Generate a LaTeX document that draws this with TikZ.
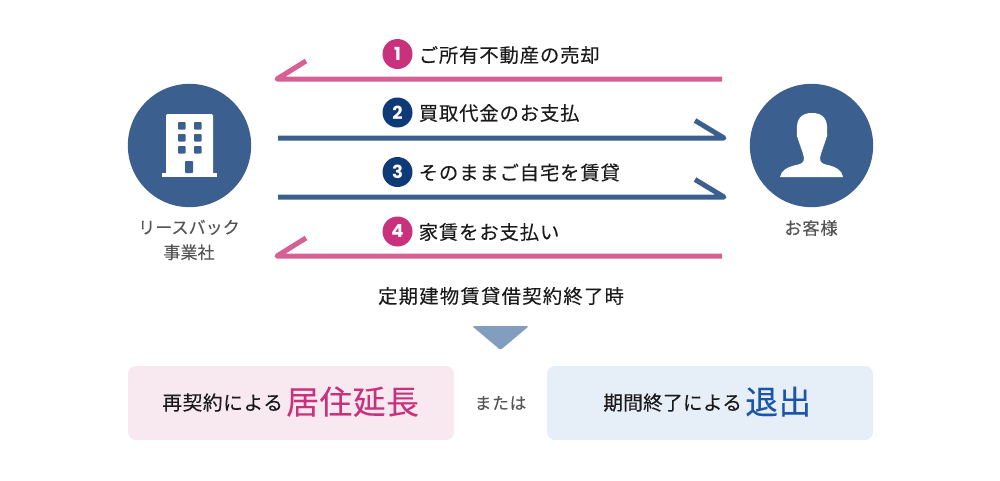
\documentclass[tikz,border=0pt]{standalone}
\usepackage{fontspec}
\setmainfont[FakeBold=0.12]{Noto Sans CJK JP}
\newfontfamily\numfont{Poppins}
\newcommand{\jpx}[2]{\fontsize{#1pt}{#1pt}\selectfont\addfontfeature{LetterSpace=#2}}
\definecolor{pinkline}{HTML}{D65F93}
\definecolor{blueline}{HTML}{3B6090}
\definecolor{pinknum}{HTML}{C9317C}
\definecolor{bluenum}{HTML}{0F3A78}
\definecolor{pinkbox}{HTML}{F8E9F0}
\definecolor{bluebox}{HTML}{E6EEF8}
\definecolor{tri}{HTML}{829EBF}
\definecolor{greytext}{HTML}{555555}
\definecolor{inktext}{HTML}{1A1A1A}
\definecolor{bluetext}{HTML}{1C55A8}
\tikzset{
 actor/.style={circle,fill=blueline,minimum size=92.5pt,inner sep=0pt},
 num/.style={circle,minimum size=22.5pt,inner sep=0pt,text=white,font=\numfont\bfseries\fontsize{13.5pt}{13.5pt}\selectfont},
 step label/.style={anchor=west,inner sep=0pt,text=inktext,font=\jpx{14.5}{4.5}},
 flow/.style={line width=3.75pt,line join=round,line cap=butt},
 small label/.style={inner sep=0pt,text=greytext,align=center},
 choice/.style={rounded corners=6pt,inner sep=0pt,minimum width=244.5pt,minimum height=55.5pt},
 icon/.style={fill=white,draw=none}
}
\begin{document}
\begin{tikzpicture}[x=0.75pt,y=-0.75pt]
\useasboundingbox (0,0) rectangle (1000,480);
% actors
\node[actor] (biz) at (189.5,145.5) {};
\node[actor] (cust) at (811.5,145.5) {};
\node[small label,font=\jpx{12.8}{0},text width=90pt] (bizlabel) at (189,240) {リースバック\\[6pt]事業社};
\node[small label,font=\jpx{13}{4}] (custlabel) at (811,228) {お客様};
% building
\fill[icon,rounded corners=1pt] (166,114) rectangle (213,174);
\fill[icon] (162,173) rectangle (217,177);
\foreach \yy in {122,134,146}{\foreach \xx in {178,194}{
 \fill[blueline,rounded corners=0.6pt] (\xx,\yy) rectangle ++(7.5,7.5);}}
\fill[blueline,rounded corners=0.6pt] (185,161) rectangle (193,173);
% person
\fill[icon] (780,177) .. controls (781,170) and (788,167) .. (796,165)
 .. controls (801,164) and (804,163) .. (804,158)
 .. controls (803,152) and (800,146) .. (798,139)
 .. controls (796,137) and (797,134) .. (797,131)
 .. controls (796,118) and (802,113) .. (812,113)
 .. controls (822,113) and (828,118) .. (827,131)
 .. controls (827,134) and (828,137) .. (826,139)
 .. controls (824,146) and (821,152) .. (820,158)
 .. controls (820,163) and (823,164) .. (828,165)
 .. controls (836,167) and (842,170) .. (843,177) -- cycle;
% flow coordinates
\coordinate (r1) at (722,79); \coordinate (l1) at (277,79); \coordinate (b1) at (306,61);
\coordinate (l2) at (278,138); \coordinate (r2) at (724,138); \coordinate (b2) at (695,120.5);
\coordinate (l3) at (278,197); \coordinate (r3) at (724,197); \coordinate (b3) at (695,179.5);
\coordinate (r4) at (722,256); \coordinate (l4) at (277,256); \coordinate (b4) at (306,238);
\draw[flow,pinkline] (b1) -- (l1) -- (r1);
\draw[flow,blueline] (l2) -- (r2) -- (b2);
\draw[flow,blueline] (l3) -- (r3) -- (b3);
\draw[flow,pinkline] (b4) -- (l4) -- (r4);
% steps
\node[num,fill=pinknum] (n1) at (397.5,54) {1};
\node[num,fill=bluenum] (n2) at (397.5,112.5) {2};
\node[num,fill=bluenum] (n3) at (397.5,172) {3};
\node[num,fill=pinknum] (n4) at (397.5,231.5) {4};
\node[step label] (t1) at (418.5,55) {ご所有不動産の売却};
\node[step label] (t2) at (418.5,113) {買取代金のお支払};
\node[step label] (t3) at (418.5,172.5) {そのままご自宅を賃貸};
\node[step label] (t4) at (418.5,232) {家賃をお支払い};
% term
\node[inner sep=0pt,text=inktext,font=\jpx{14.5}{6.5}] (term) at (501,296) {定期建物賃貸借契約終了時};
\fill[tri,rounded corners=1.2pt] (472,326) -- (529,326) -- (500.5,350) -- cycle;
% choices
\node[choice,fill=pinkbox] (renew) at (291,403) {};
\node[choice,fill=bluebox] (exit) at (710,403) {};
\node[inner sep=0pt,text=greytext,font=\jpx{12.5}{5}] (or) at (500.5,403) {または};
\node[anchor=base west,inner sep=0pt,text=inktext,font=\jpx{14.8}{3}] (r1t) at (162,410) {再契約による};
\node[anchor=base west,inner sep=0pt,text=pinknum,font=\jpx{24.5}{2}] (r2t) at (286,414) {居住延長};
\node[anchor=base west,inner sep=0pt,text=inktext,font=\jpx{14.8}{1}] (e1t) at (603,410) {期間終了による};
\node[anchor=base west,inner sep=0pt,text=bluetext,font=\jpx{24.5}{2}] (e2t) at (745,414) {退出};
\end{tikzpicture}
\end{document}
